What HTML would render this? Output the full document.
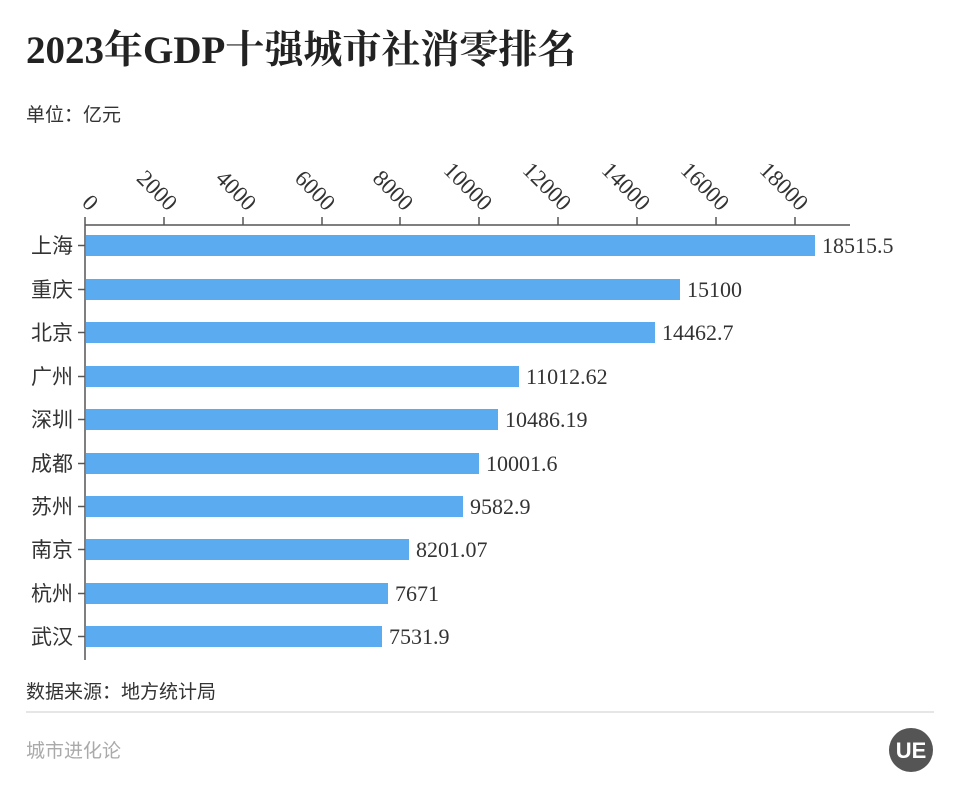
<!DOCTYPE html>
<html><head><meta charset="utf-8"><style>
body{margin:0;background:#fff;}
</style></head><body>
<svg width="960" height="800" xmlns="http://www.w3.org/2000/svg" font-family="Liberation Serif, Noto Serif CJK SC, serif">
<rect width="960" height="800" fill="#fff"/>
<text x="26" y="63" font-size="39" font-weight="bold" fill="#222" font-family="Liberation Serif, Noto Serif CJK SC, serif">2023年GDP十强城市社消零排名</text>
<text x="26" y="121" font-size="19" fill="#333" font-family="Liberation Sans, Noto Sans CJK SC, sans-serif">单位：亿元</text>
<g stroke="#555" stroke-width="1.5">
<line x1="85" y1="225" x2="850" y2="225"/>
<line x1="85" y1="225" x2="85" y2="660"/>
<line x1="85" y1="217" x2="85" y2="225"/><line x1="164" y1="217" x2="164" y2="225"/><line x1="243" y1="217" x2="243" y2="225"/><line x1="322" y1="217" x2="322" y2="225"/><line x1="400" y1="217" x2="400" y2="225"/><line x1="479" y1="217" x2="479" y2="225"/><line x1="558" y1="217" x2="558" y2="225"/><line x1="637" y1="217" x2="637" y2="225"/><line x1="716" y1="217" x2="716" y2="225"/><line x1="795" y1="217" x2="795" y2="225"/>
</g>
<g font-size="23" fill="#333" text-anchor="end">
<text transform="translate(89,212) rotate(45)">0</text>
<text transform="translate(168,212) rotate(45)">2000</text>
<text transform="translate(247,212) rotate(45)">4000</text>
<text transform="translate(326,212) rotate(45)">6000</text>
<text transform="translate(404,212) rotate(45)">8000</text>
<text transform="translate(483,212) rotate(45)">10000</text>
<text transform="translate(562,212) rotate(45)">12000</text>
<text transform="translate(641,212) rotate(45)">14000</text>
<text transform="translate(720,212) rotate(45)">16000</text>
<text transform="translate(799,212) rotate(45)">18000</text>
</g>
<g fill="#5aabf0">
<rect x="86" y="235" width="729" height="21"/>
<rect x="86" y="279" width="594" height="21"/>
<rect x="86" y="322" width="569" height="21"/>
<rect x="86" y="366" width="433" height="21"/>
<rect x="86" y="409" width="412" height="21"/>
<rect x="86" y="453" width="393" height="21"/>
<rect x="86" y="496" width="377" height="21"/>
<rect x="86" y="539" width="323" height="21"/>
<rect x="86" y="583" width="302" height="21"/>
<rect x="86" y="626" width="296" height="21"/>
</g>
<g stroke="#555" stroke-width="1.5">
<line x1="78" y1="245.5" x2="85" y2="245.5"/><line x1="78" y1="289.5" x2="85" y2="289.5"/><line x1="78" y1="332.5" x2="85" y2="332.5"/><line x1="78" y1="376.5" x2="85" y2="376.5"/><line x1="78" y1="419.5" x2="85" y2="419.5"/><line x1="78" y1="463.5" x2="85" y2="463.5"/><line x1="78" y1="506.5" x2="85" y2="506.5"/><line x1="78" y1="549.5" x2="85" y2="549.5"/><line x1="78" y1="593.5" x2="85" y2="593.5"/><line x1="78" y1="636.5" x2="85" y2="636.5"/>
</g>
<g font-size="21" fill="#333" text-anchor="end" font-family="Liberation Sans, Noto Sans CJK SC, sans-serif">
<text x="73" y="253">上海</text><text x="73" y="297">重庆</text><text x="73" y="340">北京</text><text x="73" y="384">广州</text><text x="73" y="427">深圳</text><text x="73" y="471">成都</text><text x="73" y="514">苏州</text><text x="73" y="557">南京</text><text x="73" y="601">杭州</text><text x="73" y="644">武汉</text>
</g>
<g font-size="22" fill="#333">
<text x="822" y="253">18515.5</text><text x="687" y="297">15100</text><text x="662" y="340">14462.7</text><text x="526" y="384">11012.62</text><text x="505" y="427">10486.19</text><text x="486" y="471">10001.6</text><text x="470" y="514">9582.9</text><text x="416" y="557">8201.07</text><text x="395" y="601">7671</text><text x="389" y="644">7531.9</text>
</g>
<text x="26" y="698" font-size="19" fill="#333" font-family="Liberation Sans, Noto Sans CJK SC, sans-serif">数据来源：地方统计局</text>
<line x1="26" y1="712" x2="934" y2="712" stroke="#ddd" stroke-width="1.5"/>
<text x="26" y="757" font-size="19" fill="#aaa" font-family="Liberation Sans, Noto Sans CJK SC, sans-serif">城市进化论</text>
<circle cx="911" cy="750" r="22" fill="#555"/>
<text x="911" y="758" font-size="22" font-weight="bold" fill="#fff" text-anchor="middle" font-family="Liberation Sans, sans-serif">UE</text>
</svg>
</body></html>
